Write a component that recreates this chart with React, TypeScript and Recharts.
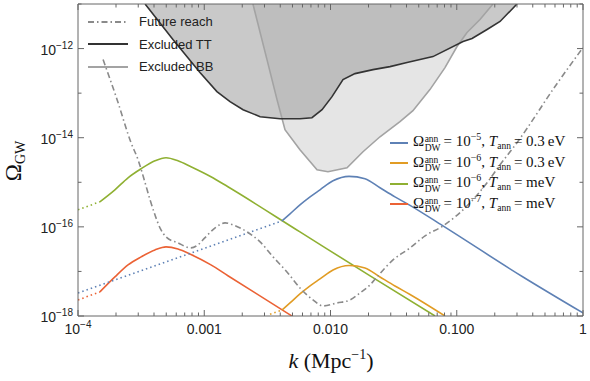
import React from 'react';
import { ComposedChart, Line, Area, XAxis, YAxis, ReferenceLine } from 'recharts';

// ---------------- data ----------------
// Omega_DW = 1e-6, T = meV (green)
const greenDotK = [1.0e-4, 1.49e-4];
const greenDotY = [2.41e-16, 3.65e-16];
const greenK = [1.49e-4, 1.96e-4, 2.49e-4, 3.16e-4, 4.07e-4, 4.98e-4, 6.19e-4, 7.85e-4, 1.13e-3, 1.54e-3, 5.73e-3, 2.06e-2, 6.73e-2];
const greenY = [3.65e-16, 6.78e-16, 1.26e-15, 2.01e-15, 3.04e-15, 3.56e-15, 3.04e-15, 2.23e-15, 1.33e-15, 7.92e-16, 7.7e-17, 7.93e-18, 1.0e-18];

// Omega_DW = 1e-7, T = meV (red)
const redDotK = [1.0e-4, 1.49e-4];
const redDotY = [2.29e-18, 3.46e-18];
const redK = [1.49e-4, 1.96e-4, 2.49e-4, 3.16e-4, 4.07e-4, 4.98e-4, 6.19e-4, 7.85e-4, 1.13e-3, 1.54e-3, 4.95e-3];
const redY = [3.46e-18, 7.52e-18, 1.4e-17, 2.12e-17, 3.04e-17, 3.56e-17, 3.2e-17, 2.4e-17, 1.4e-17, 8.0e-18, 1.0e-18];

// Omega_DW = 1e-5, T = 0.3 eV (blue)
const blueDotK = [1.0e-4, 4.13e-3];
const blueDotY = [3.29e-18, 1.36e-16];
const blueK = [4.13e-3, 4.78e-3, 5.73e-3, 6.89e-3, 8.26e-3, 1.047e-2, 1.402e-2, 1.876e-2, 2.466e-2, 3.24e-2, 4.266e-2, 7.78e-2, 0.335, 1.0];
const blueY = [1.36e-16, 1.96e-16, 3.12e-16, 4.72e-16, 6.78e-16, 1.08e-15, 1.36e-15, 1.2e-15, 7.52e-16, 4.72e-16, 3.04e-16, 1.05e-16, 7.5e-18, 1.17e-18];

// Omega_DW = 1e-6, T = 0.3 eV (orange)
const orangeDotK = [3.32e-3, 4.13e-3];
const orangeDotY = [1.09e-18, 1.36e-18];
const orangeK = [4.13e-3, 4.78e-3, 5.73e-3, 6.89e-3, 8.26e-3, 1.047e-2, 1.402e-2, 1.876e-2, 2.466e-2, 3.24e-2, 4.266e-2, 8.07e-2];
const orangeY = [1.36e-18, 1.96e-18, 3.12e-18, 4.72e-18, 6.78e-18, 1.08e-17, 1.36e-17, 1.2e-17, 7.52e-18, 4.72e-18, 3.04e-18, 1.0e-18];

// Future reach (dash-dot)
const futureK = [1.58e-4, 2.04e-4, 2.63e-4, 2.99e-4, 3.4e-4, 3.72e-4, 4.07e-4, 4.46e-4, 4.98e-4, 6.19e-4, 7.85e-4, 8.92e-4, 1.01e-3, 1.22e-3, 1.46e-3, 1.69e-3, 2.18e-3, 2.77e-3, 3.51e-3, 4.52e-3, 5.73e-3, 7.26e-3, 8.73e-3, 1.125e-2, 1.427e-2, 1.714e-2, 2.056e-2, 2.335e-2, 3.126e-2, 4.266e-2, 5.61e-2, 7.78e-2, 0.1274, 0.1738, 0.2203, 0.3, 0.622, 1.0];
const futureY = [5.66e-13, 7.15e-14, 7.73e-15, 3.21e-15, 9.75e-16, 4.05e-16, 1.86e-16, 9.5e-17, 5.96e-17, 4.37e-17, 3.37e-17, 3.94e-17, 5.66e-17, 9.5e-17, 1.23e-16, 1.11e-16, 7.73e-17, 4.6e-17, 2.12e-17, 9.75e-18, 4.26e-18, 2.29e-18, 1.68e-18, 1.96e-18, 2.29e-18, 3.29e-18, 4.98e-18, 7.52e-18, 1.81e-17, 3.37e-17, 6.28e-17, 1.05e-16, 3.46e-16, 9.75e-16, 2.47e-15, 7.73e-15, 1.63e-13, 1.05e-12];

// Excluded TT (boundary; region above is excluded)
const ttK = [3.4e-4, 5.65e-4, 9.25e-4, 1.26e-3, 1.6e-3, 2.03e-3, 2.77e-3, 3.98e-3, 5.73e-3, 7.13e-3, 8.57e-3, 1.028e-2, 1.256e-2, 1.563e-2, 2.172e-2, 2.96e-2, 4.036e-2, 6.48e-2, 0.1122, 0.1322, 0.1738, 0.2203, 0.3];
const ttY = [1e-11, 1.59e-12, 2.89e-13, 1.08e-13, 6.44e-14, 4.26e-14, 2.96e-14, 2.67e-14, 2.67e-14, 2.81e-14, 4.26e-14, 8.34e-14, 2.01e-13, 2.74e-13, 3.37e-13, 3.94e-13, 4.85e-13, 6.6e-13, 1.44e-12, 1.68e-12, 2.67e-12, 4.05e-12, 1e-11];

// Excluded BB
const bbK = [2.43e-3, 3.14e-3, 3.77e-3, 4.36e-3, 5.73e-3, 7.82e-3, 9.55e-3, 1.352e-2, 1.809e-2, 2.466e-2, 3.551e-2, 4.498e-2, 6.13e-2, 8.07e-2, 0.1005, 0.1206, 0.1528, 0.1937];
const bbY = [1e-11, 5.66e-13, 7.15e-14, 1.51e-14, 5.37e-15, 1.91e-15, 1.72e-15, 2.12e-15, 4.84e-15, 1.05e-14, 2.29e-14, 4.05e-14, 1.2e-13, 3.74e-13, 1.11e-12, 2.29e-12, 4.49e-12, 1e-11];

// ticks
const X_TICKS = [1e-4, 2e-4, 3e-4, 4e-4, 5e-4, 6e-4, 7e-4, 8e-4, 9e-4, 1e-3, 2e-3, 3e-3, 4e-3, 5e-3, 6e-3, 7e-3, 8e-3, 9e-3, 1e-2, 2e-2, 3e-2, 4e-2, 5e-2, 6e-2, 7e-2, 8e-2, 9e-2, 1e-1, 2e-1, 3e-1, 4e-1, 5e-1, 6e-1, 7e-1, 8e-1, 9e-1, 1];
const X_MAJOR = [1e-4, 1e-3, 1e-2, 1e-1, 1];
const X_LABELS = ['10^−4', '0.001', '0.010', '0.100', '1'];
const Y_TICKS = [1e-18, 1e-17, 1e-16, 1e-15, 1e-14, 1e-13, 1e-12, 1e-11];
const Y_MAJOR = [1e-18, 1e-16, 1e-14, 1e-12];
const Y_LABELS = ['10^−18', '10^−16', '10^−14', '10^−12'];

const DW_COLORS = ['#5E81B5', '#E19C24', '#8FB032', '#EB6235'];
const DW_EXPS = ['−5', '−6', '−6', '−7'];
const DW_TEMPS = ['0.3\u2009eV', '0.3\u2009eV', 'meV', 'meV'];
const TOP_LEGEND = ['Future reach', 'Excluded TT', 'Excluded BB'];

// ---------------- layout ----------------
const W = 590;
const H = 381;
const MARGIN = { top: 4, right: 7, bottom: 0, left: 0 };
const YAXIS_W = 78;
const XAXIS_H = 65;
const PLOT_W = W - MARGIN.left - MARGIN.right - YAXIS_W;
const PLOT_H = H - MARGIN.top - MARGIN.bottom - XAXIS_H;
const FRAME = '#666';
const SANS = '"Liberation Sans", Arial, sans-serif';
const SERIF = '"Liberation Serif", "Times New Roman", serif';
const TOP = 1e-11;

const zip = (ks: number[], ys: number[]) => ks.map((k, i) => ({ k, y: ys[i] }));
const ttData = ttK.map((k, i) => ({ k, lo: ttY[i], hi: TOP }));
const bbData = bbK.map((k, i) => ({ k, lo: bbY[i], hi: TOP }));
const rangeKey = (d: any) => [d.lo, d.hi];

const renderLabel = (s: string, x: number, y: number, anchor: string) => {
  const parts = s.split('^');
  return (
    <text x={x} y={y} textAnchor={anchor} fontFamily={SANS} fontSize={14} fill="#222">
      {parts[0]}
      {parts[1] !== undefined && (
        <tspan dy={-6} fontSize={10}>
          {parts[1]}
        </tspan>
      )}
    </text>
  );
};

const XTick = (props: any) => {
  const { x, y, payload } = props;
  const v = payload.value;
  const idx = X_MAJOR.indexOf(v);
  const len = idx >= 0 ? 6 : 3.5;
  const axisY = y;
  return (
    <g>
      <line x1={x} x2={x} y1={axisY} y2={axisY - len} stroke={FRAME} strokeWidth={1} />
      <line x1={x} x2={x} y1={axisY - PLOT_H} y2={axisY - PLOT_H + len} stroke={FRAME} strokeWidth={1} />
      {idx >= 0 && renderLabel(X_LABELS[idx], x, axisY + 18, 'middle')}
    </g>
  );
};

const YTick = (props: any) => {
  const { x, y, payload } = props;
  const v = payload.value;
  const idx = Y_MAJOR.indexOf(v);
  const len = idx >= 0 ? 6 : 3.5;
  const axisX = x;
  return (
    <g>
      <line x1={axisX} x2={axisX + len} y1={y} y2={y} stroke={FRAME} strokeWidth={1} />
      <line x1={axisX + PLOT_W} x2={axisX + PLOT_W - len} y1={y} y2={y} stroke={FRAME} strokeWidth={1} />
      {idx >= 0 && renderLabel(Y_LABELS[idx], axisX - 5, y + 6, 'end')}
    </g>
  );
};

const DOT = '1.5 3';
const DASHDOT = '6 3 1.5 3';

export default function App() {
  const lineProps = { dot: false, activeDot: false, isAnimationActive: false, dataKey: 'y', strokeWidth: 1.6 } as any;
  return (
    <div style={{ position: 'absolute', left: 0, top: 0, width: W, height: H, background: '#fff' }}>
      <ComposedChart width={W} height={H} margin={MARGIN}>
        <XAxis
          dataKey="k"
          type="number"
          scale="log"
          domain={[1e-4, 1]}
          allowDataOverflow
          ticks={X_TICKS}
          interval={0}
          tick={<XTick />}
          tickLine={false}
          tickSize={0}
          tickMargin={0}
          axisLine={{ stroke: FRAME }}
          height={XAXIS_H}
        />
        <YAxis
          type="number"
          scale="log"
          domain={[1e-18, 1e-11]}
          allowDataOverflow
          ticks={Y_TICKS}
          interval={0}
          tick={<YTick />}
          tickLine={false}
          tickSize={0}
          tickMargin={0}
          axisLine={{ stroke: FRAME }}
          width={YAXIS_W}
        />
        <Area data={bbData} dataKey={rangeKey} type="linear" fill="#e5e5e5" fillOpacity={1} stroke="none" isAnimationActive={false} dot={false} activeDot={false} />
        <Area data={ttData} dataKey={rangeKey} type="linear" fill="#a2a2a2" fillOpacity={0.58} stroke="none" isAnimationActive={false} dot={false} activeDot={false} />
        <Line data={bbData} dataKey="lo" type="linear" stroke="#a3a3a3" strokeWidth={1.6} dot={false} activeDot={false} isAnimationActive={false} />
        <Line data={ttData} dataKey="lo" type="linear" stroke="#333" strokeWidth={1.6} dot={false} activeDot={false} isAnimationActive={false} />

        <Line {...lineProps} data={zip(greenDotK, greenDotY)} type="linear" stroke={DW_COLORS[2]} strokeDasharray={DOT} />
        <Line {...lineProps} data={zip(greenK, greenY)} type="monotone" stroke={DW_COLORS[2]} />
        <Line {...lineProps} data={zip(redDotK, redDotY)} type="linear" stroke={DW_COLORS[3]} strokeDasharray={DOT} />
        <Line {...lineProps} data={zip(redK, redY)} type="monotone" stroke={DW_COLORS[3]} />
        <Line {...lineProps} data={zip(blueDotK, blueDotY)} type="linear" stroke={DW_COLORS[0]} strokeDasharray={DOT} />
        <Line {...lineProps} data={zip(blueK, blueY)} type="monotone" stroke={DW_COLORS[0]} />
        <Line {...lineProps} data={zip(orangeDotK, orangeDotY)} type="linear" stroke={DW_COLORS[1]} strokeDasharray={DOT} />
        <Line {...lineProps} data={zip(orangeK, orangeY)} type="monotone" stroke={DW_COLORS[1]} />

        <Line {...lineProps} data={zip(futureK, futureY)} type="monotone" stroke="#8a8a8a" strokeDasharray={DASHDOT} />

        <ReferenceLine y={TOP} stroke={FRAME} />
        <ReferenceLine x={1} stroke={FRAME} />
      </ComposedChart>

      {/* top-left legend */}
      <div style={{ position: 'absolute', left: 88, top: 10.5, fontFamily: SANS, fontSize: 13, color: '#222' }}>
        {TOP_LEGEND.map((t, i) => (
          <div key={t} style={{ display: 'flex', alignItems: 'center', height: 22.5 }}>
            <svg width={40} height={4} style={{ display: 'block' }}>
              <line
                x1={0}
                x2={40}
                y1={2}
                y2={2}
                stroke={i === 0 ? '#8a8a8a' : i === 1 ? '#333' : '#a3a3a3'}
                strokeWidth={1.8}
                strokeDasharray={i === 0 ? DASHDOT : undefined}
              />
            </svg>
            <span style={{ marginLeft: 11, whiteSpace: 'nowrap' }}>{t}</span>
          </div>
        ))}
      </div>

      {/* DW legend */}
      <div style={{ position: 'absolute', left: 390, top: 132.5, fontFamily: SERIF, fontSize: 15, color: '#111' }}>
        {DW_COLORS.map((c, i) => (
          <div key={i} style={{ display: 'flex', alignItems: 'center', height: 20.5, whiteSpace: 'nowrap' }}>
            <div style={{ width: 18, height: 0, borderTop: `2px solid ${c}`, marginRight: 5 }} />
            <span style={{ lineHeight: '15px' }}>
              Ω
              <span
                style={{
                  display: 'inline-flex',
                  flexDirection: 'column',
                  fontSize: 9.5,
                  lineHeight: '8.5px',
                  verticalAlign: 'middle',
                  position: 'relative',
                  top: 1,
                  marginLeft: 0.5,
                }}
              >
                <span>ann</span>
                <span>DW</span>
              </span>
              {'\u2009= 10'}
              <span style={{ fontSize: 10, position: 'relative', top: -6 }}>{DW_EXPS[i]}</span>
              {', '}
              <i>T</i>
              <span style={{ fontSize: 9.5, position: 'relative', top: 3 }}>ann</span>
              {'\u2009= ' + DW_TEMPS[i]}
            </span>
          </div>
        ))}
      </div>

      {/* y axis title */}
      <div
        style={{
          position: 'absolute',
          left: 15,
          top: 161,
          transform: 'translate(-50%, -50%) rotate(-90deg)',
          fontFamily: SERIF,
          fontSize: 23,
          whiteSpace: 'nowrap',
          color: '#111',
          lineHeight: '23px',
        }}
      >
        Ω<span style={{ fontSize: 14, position: 'relative', top: 4 }}>GW</span>
      </div>

      {/* x axis title */}
      <div
        style={{
          position: 'absolute',
          left: 331,
          top: 350,
          transform: 'translateX(-50%)',
          fontFamily: SERIF,
          fontSize: 22,
          whiteSpace: 'nowrap',
          color: '#111',
          lineHeight: '22px',
        }}
      >
        <i>k</i>
        {' (Mpc'}
        <span style={{ fontSize: 14, position: 'relative', top: -9 }}>−1</span>
        {')'}
      </div>
    </div>
  );
}
